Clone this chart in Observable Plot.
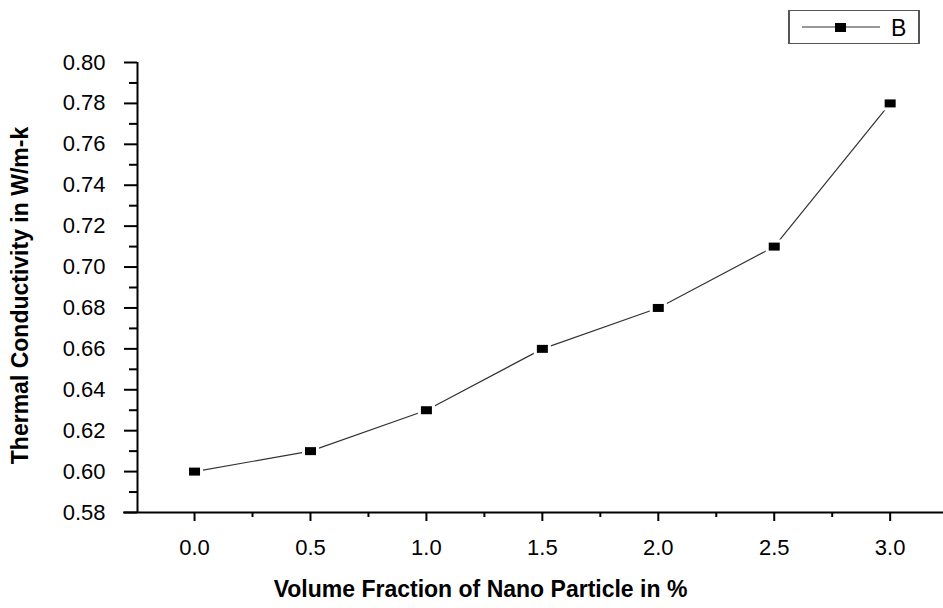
<!DOCTYPE html>
<html>
<head>
<meta charset="utf-8">
<script src="https://cdn.jsdelivr.net/npm/d3@7"></script>
<script src="https://cdn.jsdelivr.net/npm/@observablehq/plot@0.6"></script>
<style>
  body { margin: 0; background: #fff; font-family: "Liberation Sans", Arial, sans-serif; }
  #wrap { position: relative; width: 943px; height: 608px; }
  #legend { position: absolute; left: 788px; top: 10px; width: 128px; height: 32px;
    border: 1px solid #555; border-left-width: 2px; border-right-width: 2px; background: #fff;
    font-family: "Liberation Sans", Arial, sans-serif; }
</style>
</head>
<body>
<div id="wrap"></div>
<script>
const seriesName = "B";
const volumeFraction = [0.0, 0.5, 1.0, 1.5, 2.0, 2.5, 3.0];
const conductivity = [0.60, 0.61, 0.63, 0.66, 0.68, 0.71, 0.78];
const xTickValues = [0.0, 0.5, 1.0, 1.5, 2.0, 2.5, 3.0];
const xMinorTicks = [0.25, 0.75, 1.25, 1.75, 2.25, 2.75];
const yTickValues = [0.58, 0.60, 0.62, 0.64, 0.66, 0.68, 0.70, 0.72, 0.74, 0.76, 0.78, 0.80];
const yMinorTicks = [0.59, 0.61, 0.63, 0.65, 0.67, 0.69, 0.71, 0.73, 0.75, 0.77, 0.79];
const xTitle = "Volume Fraction of Nano Particle in %";
const yTitle = "Thermal Conductivity in W/m-k";

const data = volumeFraction.map((x, i) => ({x, y: conductivity[i]}));

const rectSymbol = {
  draw(ctx, size) {
    ctx.moveTo(-5.5, -4); ctx.lineTo(5.5, -4); ctx.lineTo(5.5, 4); ctx.lineTo(-5.5, 4); ctx.closePath();
  }
};

const xDomain = [-0.246, 3.23];
const yDomain = [0.58, 0.80];

const chart = Plot.plot({
  width: 943,
  height: 608,
  marginLeft: 137,
  marginRight: 0,
  marginTop: 62,
  marginBottom: 96,
  style: {fontFamily: "'Liberation Sans', Arial, sans-serif", background: "#fff", color: "#000"},
  x: {domain: xDomain},
  y: {domain: yDomain},
  marks: [
    Plot.axisY({ticks: yTickValues, tickSize: 13, tickPadding: 19, strokeWidth: 2,
      tickFormat: d => d.toFixed(2), fontSize: 22, label: null}),
    Plot.axisY({ticks: yMinorTicks, tickSize: 8, strokeWidth: 2, tickFormat: () => "", label: null}),
    Plot.axisX({ticks: xTickValues, tickSize: 9, tickPadding: 18, strokeWidth: 2,
      tickFormat: d => d.toFixed(1), fontSize: 22, label: null}),
    Plot.axisX({ticks: xMinorTicks, tickSize: 5, strokeWidth: 2, tickFormat: () => "", label: null}),
    Plot.ruleX([xDomain[0]], {stroke: "#000", strokeWidth: 2}),
    Plot.ruleY([yDomain[0]], {stroke: "#000", strokeWidth: 2, x1: -0.306, x2: xDomain[1]}),
    Plot.line(data, {x: "x", y: "y", stroke: "#333", strokeWidth: 1.2}),
    Plot.dot(data, {x: "x", y: "y", symbol: rectSymbol, fill: "#000", stroke: "#fff",
      strokeWidth: 6, paintOrder: "stroke"}),
    Plot.text([xTitle], {frameAnchor: "bottom", dy: 84, dx: -60, fontSize: 23, fontWeight: "bold",
      fill: "#000", textAnchor: "middle"}),
    Plot.text([yTitle], {frameAnchor: "left", dx: -117, dy: 8, rotate: -90, fontSize: 23,
      fontWeight: "bold", fill: "#000", textAnchor: "middle"})
  ]
});

const wrap = document.getElementById("wrap");
wrap.appendChild(chart);

const legend = document.createElement("div");
legend.id = "legend";
legend.innerHTML = `<svg width="128" height="32" style="position:absolute;left:0;top:0">
  <line x1="12" y1="16" x2="90" y2="16" stroke="#333" stroke-width="1.2"></line>
  <rect x="45" y="12" width="11" height="9" fill="#000"></rect>
  <text x="101" y="25" font-size="23" fill="#000">${seriesName}</text>
</svg>`;
wrap.appendChild(legend);
</script>
</body>
</html>
